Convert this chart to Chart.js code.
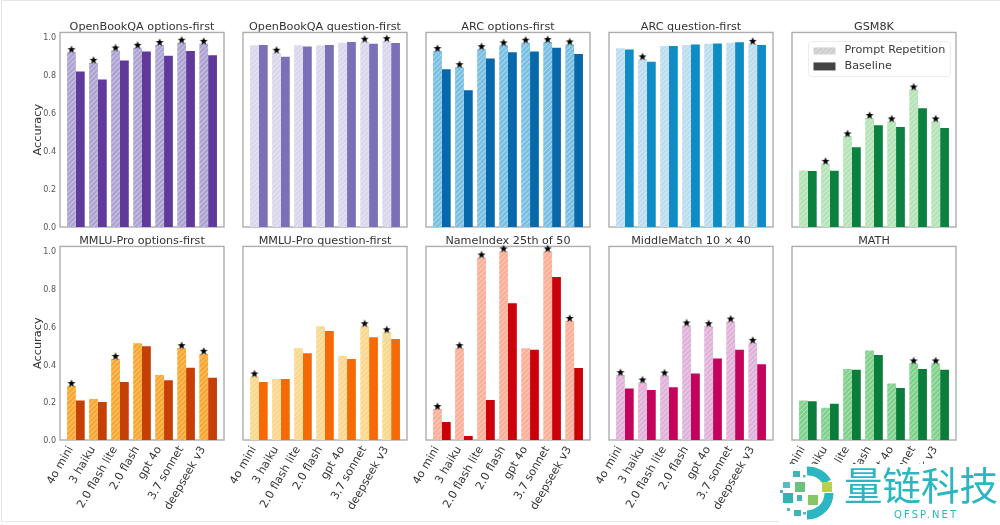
<!DOCTYPE html>
<html><head><meta charset="utf-8">
<script src="https://cdn.jsdelivr.net/npm/chart.js@4"></script>
<style>
html,body{margin:0;padding:0;background:#fff;width:1000px;height:525px;overflow:hidden}
#stage{position:absolute;left:0;top:0;width:1000px;height:525px;overflow:hidden;filter:blur(0.45px)}
#edge{position:absolute;left:1px;top:0;width:1010px;height:522px;border:1px solid #e6e6e6;box-sizing:border-box}
canvas{position:absolute}
#wm{position:absolute;left:779px;top:464px;width:221px;height:61px;background:#fff}
#wm .cn{position:absolute;left:65px;top:-5px;font:38.5px/48px "Noto Sans CJK SC";color:#2bb6c1;white-space:nowrap;letter-spacing:0}
#wm .en{position:absolute;left:115px;top:45px;font:10px/12px "DejaVu Sans";color:#2bb6c1;letter-spacing:2.1px;white-space:nowrap}
#wm svg{position:absolute;left:0;top:0}
</style></head><body>
<div id="stage"><div id="edge"></div></div>
<script>
const categories = ["4o mini","3 haiku","2.0 flash lite","2.0 flash","gpt 4o","3.7 sonnet","deepseek v3"];
const yTickValues = [0,0.2,0.4,0.6,0.8,1.0];
const seriesNames = ["Prompt Repetition","Baseline"];

const qaOptRep  = [.922,.866,.931,.945,.960,.972,.966];
const qaOptBase = [.820,.778,.878,.926,.903,.928,.906];
const qaOptStar = [0,1,2,3,4,5,6];
const qaQueRep  = [.958,.919,.958,.958,.972,.977,.980];
const qaQueBase = [.960,.898,.952,.960,.975,.966,.970];
const qaQueStar = [1,5,6];
const arcOptRep  = [.928,.843,.938,.958,.972,.975,.963];
const arcOptBase = [.832,.721,.889,.922,.926,.945,.912];
const arcOptStar = [0,1,2,3,4,5,6];
const arcQueRep  = [.942,.884,.954,.960,.966,.972,.966];
const arcQueBase = [.936,.871,.954,.963,.968,.974,.960];
const arcQueStar = [1,6];
const gsmRep  = [.298,.333,.478,.575,.557,.725,.557];
const gsmBase = [.295,.296,.420,.536,.527,.626,.522];
const gsmStar = [1,2,3,4,5,6];
const mmluOptRep  = [.286,.217,.430,.513,.344,.487,.457];
const mmluOptBase = [.210,.201,.307,.497,.317,.383,.330];
const mmluOptStar = [0,2,5,6];
const mmluQueRep  = [.337,.323,.487,.603,.446,.603,.571];
const mmluQueBase = [.307,.323,.460,.578,.430,.545,.536];
const mmluQueStar = [0,5,6];
const nameRep  = [.164,.487,.968,1.0,.487,1.0,.631];
const nameBase = [.095,.021,.212,.725,.478,.864,.381];
const nameStar = [0,1,2,3,5,6];
const midRep  = [.344,.305,.342,.607,.603,.628,.515];
const midBase = [.273,.265,.280,.353,.432,.478,.402];
const midStar = [0,1,2,3,4,5,6];
const mathRep  = [.210,.171,.377,.474,.300,.406,.406];
const mathBase = [.205,.192,.372,.450,.275,.377,.372];
const mathStar = [5,6];

const panels = [
 {t:"OpenBookQA options-first",rep:qaOptRep,base:qaOptBase,star:qaOptStar,cr:"#ada3d3",cb:"#5f3a9b",col:0,row:0},
 {t:"OpenBookQA question-first",rep:qaQueRep,base:qaQueBase,star:qaQueStar,cr:"#dad6ec",cb:"#7a70b8",col:1,row:0},
 {t:"ARC options-first",rep:arcOptRep,base:arcOptBase,star:arcOptStar,cr:"#79bfe2",cb:"#0868ac",col:2,row:0},
 {t:"ARC question-first",rep:arcQueRep,base:arcQueBase,star:arcQueStar,cr:"#bcdcf0",cb:"#0d8cc6",col:3,row:0},
 {t:"GSM8K",rep:gsmRep,base:gsmBase,star:gsmStar,cr:"#b4e4b6",cb:"#0b8140",col:4,row:0,legend:true},
 {t:"MMLU-Pro options-first",rep:mmluOptRep,base:mmluOptBase,star:mmluOptStar,cr:"#f9a62e",cb:"#c63f04",col:0,row:1},
 {t:"MMLU-Pro question-first",rep:mmluQueRep,base:mmluQueBase,star:mmluQueStar,cr:"#fbd78c",cb:"#f56a05",col:1,row:1},
 {t:"NameIndex 25th of 50",rep:nameRep,base:nameBase,star:nameStar,cr:"#fbae98",cb:"#cb0008",col:2,row:1},
 {t:"MiddleMatch 10 × 40",rep:midRep,base:midBase,star:midStar,cr:"#e0b2da",cb:"#c4045c",col:3,row:1},
 {t:"MATH",rep:mathRep,base:mathBase,star:mathStar,cr:"#7fd18c",cb:"#0a7d3a",col:4,row:1}
];

function hatch(color){
  const c=document.createElement('canvas');c.width=c.height=5;
  const g=c.getContext('2d');
  g.fillStyle=color;g.fillRect(0,0,5,5);
  g.strokeStyle='rgba(255,255,255,0.36)';g.lineWidth=1.1;
  g.beginPath();
  for(let k=-5;k<=10;k+=5){g.moveTo(k,5);g.lineTo(k+5,0);}
  g.stroke();
  return document.createElement('canvas').getContext('2d').createPattern(c,'repeat');
}
function starImage(){
  const c=document.createElement('canvas');c.width=10;c.height=16;
  const g=c.getContext('2d');g.fillStyle='#000';g.beginPath();
  for(let i=0;i<10;i++){
    const r=i%2?1.75:4.2,a=-Math.PI/2+i*Math.PI/5;
    const x=5+r*Math.cos(a),y=5.5+r*Math.sin(a);
    i?g.lineTo(x,y):g.moveTo(x,y);
  }
  g.closePath();g.fill();return c;
}
const star=starImage();

const frame={id:'frame',beforeDatasetsDraw(ch){
  const a=ch.chartArea,g=ch.ctx;g.save();
  g.strokeStyle='#adadad';g.lineWidth=1.4;
  g.strokeRect(a.left,a.top,a.width,a.height);g.restore();
}};
const legendBox={id:'legendBox',afterDraw(ch,args,o){
  if(!o.show)return;
  const a=ch.chartArea,g=ch.ctx,L=a.left+16.5,T=a.top+9;
  g.save();
  g.fillStyle='rgba(255,255,255,.85)';g.strokeStyle='#ececec';g.lineWidth=1;
  g.beginPath();g.roundRect(L,T,142,35,3);g.fill();g.stroke();
  g.fillStyle=hatch('#cdcdcd');g.fillRect(L+5,T+6,22,7);
  g.fillStyle='#444';g.fillRect(L+5,T+21,22,8);
  g.fillStyle='#3a3a3a';g.font='11.2px "DejaVu Sans"';g.textBaseline='middle';
  g.fillText(seriesNames[0],L+36,T+8.5);
  g.fillText(seriesNames[1],L+36,T+25);
  g.restore();
}};

const stage=document.getElementById('stage');
panels.forEach(p=>{
  const plotLeft=60+183*p.col, plotTop=p.row?247:33, plotH=p.row?193:194;
  const H=p.row?310:240;
  const cv=document.createElement('canvas');
  cv.width=284;cv.height=H;
  cv.style.left=(plotLeft-60)+'px';cv.style.top=(plotTop-33)+'px';
  cv.style.width='284px';cv.style.height=H+'px';
  stage.appendChild(cv);
  const rep=p.rep.map((v,i)=>({x:i,y:v}));
  const base=p.base.map((v,i)=>({x:i,y:v}));
  const stars=p.star.map(i=>({x:i-0.2,y:p.rep[i]}));
  new Chart(cv,{
    type:'bar',
    data:{datasets:[
      {type:'line',data:stars,showLine:false,pointStyle:star,pointRadius:5,clip:false,order:-1,label:'best'},
      {label:seriesNames[0],data:rep,backgroundColor:hatch(p.cr),borderWidth:0,barPercentage:1,categoryPercentage:.8},
      {label:seriesNames[1],data:base,backgroundColor:p.cb,borderWidth:0,barPercentage:1,categoryPercentage:.8}
    ]},
    options:{
      responsive:false,animation:false,devicePixelRatio:1,
      layout:{autoPadding:false,padding:{left:0,right:60,top:0,bottom:0}},
      plugins:{
        legend:{display:false},tooltip:{enabled:false},
        title:{display:true,fullSize:false,text:p.t,color:'#333',font:{family:'"DejaVu Sans"',size:11.2,weight:'normal'},padding:{top:20,bottom:-1}},
        legendBox:{show:!!p.legend}
      },
      scales:{
        x:{type:'linear',min:-0.72,max:6.72,offset:false,display:!!p.row,
          grid:{display:false,drawTicks:false},border:{display:false},
          afterBuildTicks:s=>{s.ticks=categories.map((_,i)=>({value:i}));},
          ticks:{autoSkip:false,minRotation:60,maxRotation:60,padding:4,labelOffset:-5,color:'#333',
            font:{family:'"DejaVu Sans"',size:11.2},
            callback:v=>categories[v]},
          afterFit:s=>{s.height=H-33-plotH;s.paddingLeft=s.paddingRight=0;}
        },
        y:{type:'linear',min:0,max:1.026,
          grid:{display:false,drawTicks:false},border:{display:false},
          afterBuildTicks:s=>{s.ticks=yTickValues.map(v=>({value:v}));},
          ticks:{display:p.col===0,padding:4,labelOffset:1,color:'#555',font:{family:'"DejaVu Sans"',size:8},callback:v=>v.toFixed(1)},
          title:{display:p.col===0,text:'Accuracy',color:'#333',font:{family:'"DejaVu Sans"',size:11.3},padding:{top:31,bottom:0}},
          afterFit:s=>{s.width=60;s.paddingTop=s.paddingBottom=0;}
        }
      }
    },
    plugins:[frame,legendBox]
  });
});

const wm=document.createElement('div');wm.id='wm';
const sq=[[14,7,7,6,"#3fb4b8"],[24,11,2.5,2.5,"#55b8c0"],[4,18,7,6,"#55bcc0"],[16,18,10,10,"#6cc17f"],[43,18,10,10,"#b5d24a"],
 [1,26,3,3,"#46b6bd"],[4,29,10,10,"#2fb3b3"],[18,31,5,6,"#3fb4b8"],[29,31,10,10,"#86c765"],[8,44,3,3,"#55b8c0"],[15,46,7,6,"#3fb4b8"],[24,48,3,2.5,"#55b8c0"]];
wm.innerHTML='<svg width="60" height="61" viewBox="0 0 60 61">'+
 '<path d="M28 7 A22 22 0 0 1 48 18" fill="none" stroke="#2bb6c1" stroke-width="9"/>'+
 '<path d="M50 29 A22 22 0 0 1 28 51" fill="none" stroke="#2bb6c1" stroke-width="9"/>'+
 sq.map(s=>'<rect x="'+s[0]+'" y="'+s[1]+'" width="'+s[2]+'" height="'+s[3]+'" fill="'+s[4]+'"/>').join('')+'</svg>'+
 '<div class="cn">量链科技</div><div class="en">QFSP.NET</div>';
stage.appendChild(wm);
</script>
</body></html>
